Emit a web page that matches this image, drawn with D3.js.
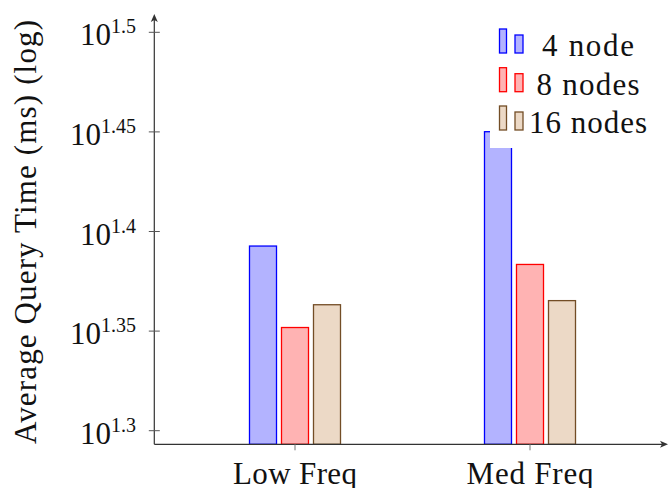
<!DOCTYPE html>
<html>
<head>
<meta charset="utf-8">
<script src="https://cdn.jsdelivr.net/npm/d3@7"></script>
<style>
  body { margin: 0; background: #fff; }
</style>
</head>
<body>
<svg id="chart" width="672" height="488"></svg>
<script>
// data
var categories = ["Low Freq", "Med Freq"];
var seriesNames = ["4 node", "8 nodes", "16 nodes"];
var values4 = [24.70, 28.19];
var values8 = [22.48, 24.18];
var values16 = [23.08, 23.19];
var tickExponents = ["1.3", "1.35", "1.4", "1.45", "1.5"];

var seriesValues = [values4, values8, values16];
var strokes = ["#0000ff", "#ff0000", "#734d26"];
var fills = ["#b3b3ff", "#ffb3b3", "#ecd9c6"];

var svg = d3.select("#chart")
    .attr("font-family", "'Liberation Serif', 'Times New Roman', Times, 'DejaVu Serif', serif")
    .attr("fill", "#111");

var axisX = 154.3, axisY = 444.3;

var y = d3.scaleLog()
    .domain([Math.pow(10, 1.3), Math.pow(10, 1.5)])
    .range([430.7, 32.3]);

var x = d3.scalePoint()
    .domain(categories)
    .range([295, 530]);

var inner = d3.scaleBand()
    .domain(seriesNames)
    .range([-48, 48])
    .paddingInner(0.156)
    .paddingOuter(0.078);

// bars
seriesNames.forEach(function(name, s) {
    svg.append("g").selectAll("rect")
        .data(seriesValues[s])
        .enter().append("rect")
        .attr("x", function(d, i) { return x(categories[i]) + inner(name); })
        .attr("width", inner.bandwidth())
        .attr("y", function(d) { return y(d); })
        .attr("height", function(d) { return axisY - y(d); })
        .attr("fill", fills[s])
        .attr("stroke", strokes[s])
        .attr("stroke-width", 1.3);
});

// axes lines with arrows
var axisColor = "#333";
svg.append("line")
    .attr("x1", axisX).attr("y1", axisY).attr("x2", axisX).attr("y2", 18)
    .attr("stroke", axisColor).attr("stroke-width", 1.2);
svg.append("path")
    .attr("d", "M" + axisX + ",14 L" + (axisX - 3.5) + ",22 L" + axisX + ",20 L" + (axisX + 3.5) + ",22 Z")
    .attr("fill", axisColor);
svg.append("line")
    .attr("x1", axisX).attr("y1", axisY).attr("x2", 664).attr("y2", axisY)
    .attr("stroke", axisColor).attr("stroke-width", 1.2);
svg.append("path")
    .attr("d", "M668," + axisY + " L660," + (axisY - 3.5) + " L662," + axisY + " L660," + (axisY + 3.5) + " Z")
    .attr("fill", axisColor);

// y ticks
var yTicks = tickExponents.map(function(e) { return Math.pow(10, +e); });
var yt = svg.append("g").selectAll("g")
    .data(yTicks)
    .enter().append("g")
    .attr("transform", function(d) { return "translate(0," + y(d) + ")"; });
yt.append("line")
    .attr("x1", axisX - 5.5).attr("x2", axisX + 5.5)
    .attr("stroke", "#555").attr("stroke-width", 1);
var lbl = yt.append("text")
    .attr("x", 136)
    .attr("y", 13)
    .attr("text-anchor", "end")
    .attr("font-size", 31);
lbl.append("tspan").text("10");
lbl.append("tspan")
    .attr("font-size", 20)
    .attr("dy", -12)
    .text(function(d, i) { return tickExponents[i]; });

// x ticks
var xt = svg.append("g").selectAll("g")
    .data(categories)
    .enter().append("g")
    .attr("transform", function(d) { return "translate(" + x(d) + ",0)"; });
xt.append("line")
    .attr("y1", axisY).attr("y2", axisY + 6)
    .attr("stroke", "#777").attr("stroke-width", 1);
xt.append("text")
    .attr("y", 484)
    .attr("text-anchor", "middle")
    .attr("font-size", 31)
    .attr("textLength", function(d, i) { return i === 0 ? 124 : 127; })
    .text(function(d) { return d; });

// y axis label
svg.append("text")
    .attr("transform", "translate(36,232) rotate(-90)")
    .attr("text-anchor", "middle")
    .attr("font-size", 31)
    .attr("textLength", 424)
    .text("Average Query Time (ms) (log)");

// legend
var legend = svg.append("g");
legend.append("rect")
    .attr("x", 490).attr("y", 14).attr("width", 176).attr("height", 134)
    .attr("fill", "#fff");
var rowBase = [53, 91.7, 130];
var textWidths = [92, 103, 118];
seriesNames.forEach(function(name, s) {
    var b = rowBase[s];
    legend.append("rect")
        .attr("x", 499.5).attr("y", b - 24).attr("width", 7).attr("height", 24)
        .attr("fill", fills[s]).attr("stroke", strokes[s]).attr("stroke-width", 1.3);
    legend.append("rect")
        .attr("x", 515).attr("y", b - 18).attr("width", 8).attr("height", 18)
        .attr("fill", fills[s]).attr("stroke", strokes[s]).attr("stroke-width", 1.3);
    legend.append("text")
        .attr("x", 588).attr("y", b + 3)
        .attr("text-anchor", "middle")
        .attr("font-size", 31)
        .attr("textLength", textWidths[s])
        .text(name);
});
</script>
</body>
</html>
